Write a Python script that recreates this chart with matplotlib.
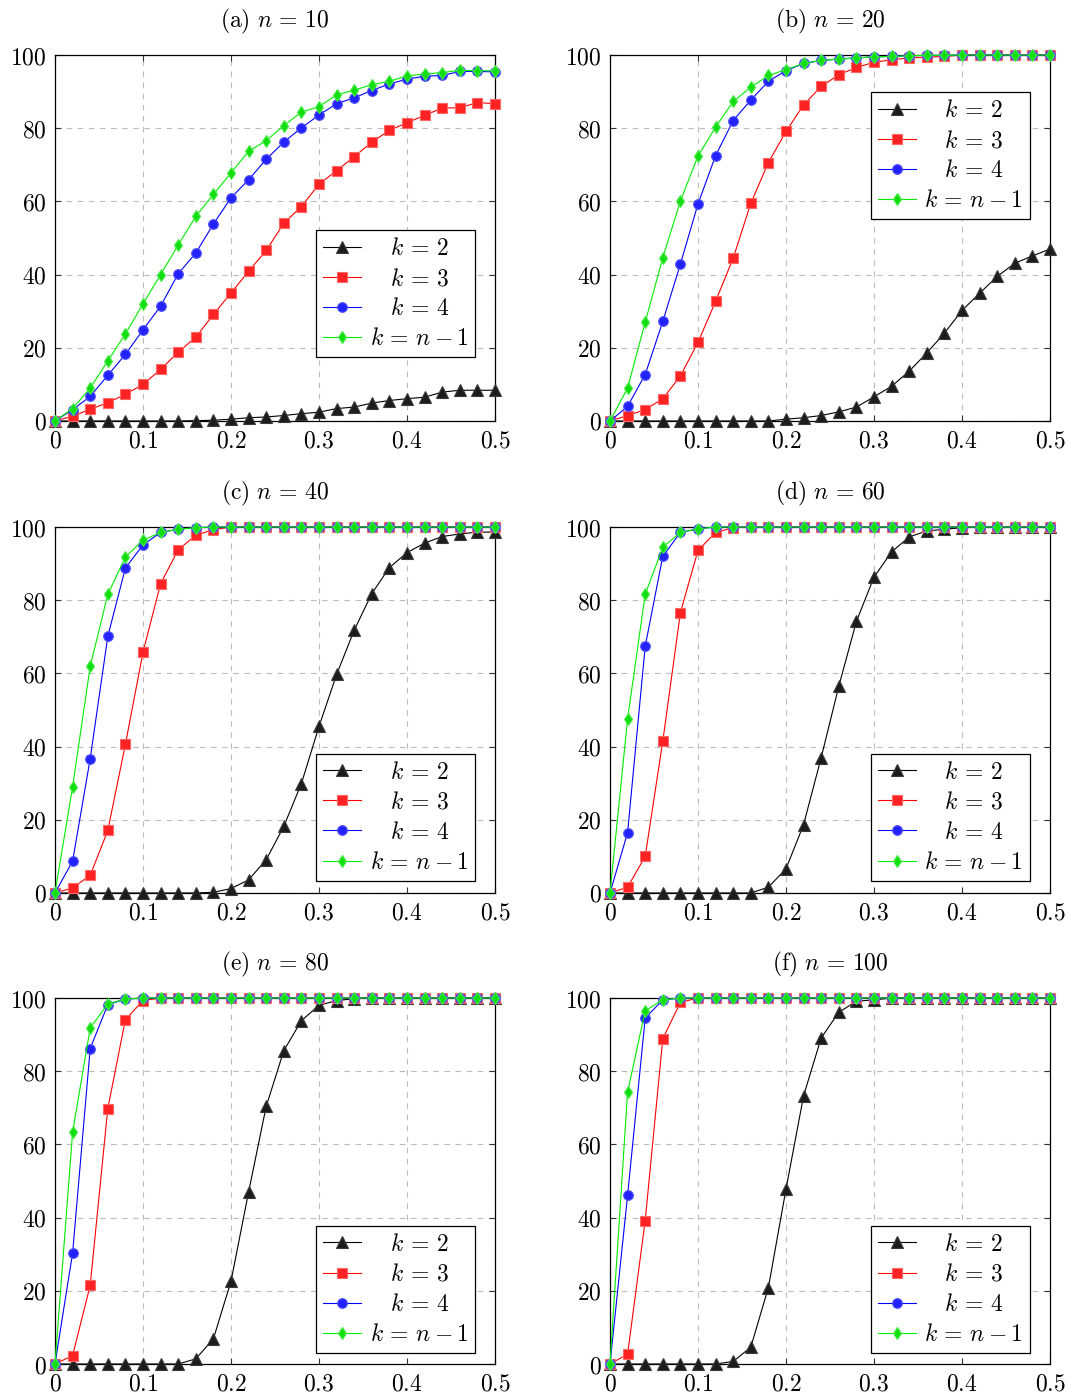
import matplotlib
matplotlib.use("Agg")
import matplotlib.pyplot as plt
from matplotlib.ticker import FuncFormatter, FixedLocator

plt.rcParams['mathtext.fontset'] = 'cm'
plt.rcParams['font.family'] = ['DejaVu Serif']

x = [0.00, 0.02, 0.04, 0.06, 0.08, 0.10, 0.12, 0.14, 0.16, 0.18, 0.20, 0.22, 0.24,
     0.26, 0.28, 0.30, 0.32, 0.34, 0.36, 0.38, 0.40, 0.42, 0.44, 0.46, 0.48, 0.50]

titles = [r'$\mathrm{(a)}\ n \,=\, 10$', r'$\mathrm{(b)}\ n \,=\, 20$', r'$\mathrm{(c)}\ n \,=\, 40$',
          r'$\mathrm{(d)}\ n \,=\, 60$', r'$\mathrm{(e)}\ n \,=\, 80$', r'$\mathrm{(f)}\ n \,=\, 100$']
labels = [r'$\quad k \,=\, 2$', r'$\quad k \,=\, 3$', r'$\quad k \,=\, 4$', r'$k \,=\, n - 1$']

# (a) n = 10
a_k2 = [0, 0, 0, 0, 0, 0, 0, 0, 0.1, 0.2, 0.5, 0.9, 1.1, 1.5, 2.0, 2.4, 3.4, 3.8, 4.9, 5.6, 6.1, 6.5, 7.9, 8.4, 8.4, 8.4]
a_k3 = [0, 1.3, 3.2, 5.0, 7.3, 10.0, 14.1, 18.8, 22.9, 29.1, 35.0, 40.9, 46.6, 54.0, 58.6, 64.7, 68.4, 72.2, 76.2, 79.4, 81.5, 83.5, 85.5, 85.6, 87.0, 86.7]
a_k4 = [0, 3.1, 6.7, 12.5, 18.2, 24.9, 31.4, 40.2, 45.9, 53.8, 61.0, 65.9, 71.5, 76.2, 80.1, 83.6, 86.7, 88.3, 90.3, 92.1, 93.4, 94.2, 94.4, 95.5, 95.5, 95.4]
a_kn = [0, 3.4, 9.0, 16.4, 23.8, 32.0, 40.0, 48.1, 55.9, 61.9, 67.8, 73.7, 76.6, 80.7, 84.4, 85.9, 89.1, 90.4, 91.9, 92.8, 94.3, 94.8, 95.2, 95.8, 95.7, 95.7]

# (b) n = 20
b_k2 = [0, 0, 0, 0, 0, 0, 0, 0, 0, 0, 0.5, 0.9, 1.5, 2.5, 3.8, 6.6, 9.5, 13.6, 18.6, 24.0, 30.2, 34.9, 39.5, 43.1, 45.1, 47.0]
b_k3 = [0, 1.5, 3.1, 6.1, 12.3, 21.5, 32.7, 44.5, 59.5, 70.6, 79.1, 86.4, 91.4, 94.6, 96.6, 98.0, 98.7, 99.2, 99.4, 99.6, 100, 100, 100, 100, 100, 100]
b_k4 = [0, 4.0, 12.7, 27.2, 42.9, 59.3, 72.5, 82.1, 87.7, 92.8, 95.7, 97.7, 98.5, 98.9, 99.2, 99.5, 99.6, 99.8, 99.9, 99.9, 100, 100, 100, 100, 100, 100]
b_kn = [0, 9.0, 27.0, 44.6, 60.1, 72.4, 80.3, 87.3, 91.2, 94.4, 96.0, 97.7, 98.5, 98.9, 99.2, 99.5, 99.6, 99.8, 99.9, 99.9, 100, 100, 100, 100, 100, 100]

# (c) n = 40
c_k2 = [0, 0, 0, 0, 0, 0, 0, 0, 0, 0.2, 1.2, 3.6, 9.1, 18.2, 29.9, 45.5, 59.7, 71.8, 81.8, 88.9, 93.0, 95.6, 97.4, 98.1, 98.6, 98.6]
c_k3 = [0, 1.4, 4.8, 17.1, 40.6, 65.8, 84.5, 93.8, 97.7, 99.3, 100, 100, 100, 100, 100, 100, 100, 100, 100, 100, 100, 100, 100, 100, 100, 100]
c_k4 = [0, 8.7, 36.7, 70.1, 88.8, 95.1, 98.5, 99.4, 99.8, 100, 100, 100, 100, 100, 100, 100, 100, 100, 100, 100, 100, 100, 100, 100, 100, 100]
c_kn = [0, 29.0, 61.9, 81.6, 91.8, 96.4, 98.5, 99.4, 99.8, 100, 100, 100, 100, 100, 100, 100, 100, 100, 100, 100, 100, 100, 100, 100, 100, 100]

# (d) n = 60
d_k2 = [0, 0, 0, 0, 0, 0, 0, 0, 0, 1.6, 6.6, 18.7, 37.0, 56.5, 74.2, 86.3, 93.2, 97.3, 98.9, 99.4, 99.8, 100, 100, 100, 100, 100]
d_k3 = [0, 1.6, 10.0, 41.5, 76.6, 93.6, 98.5, 99.8, 100, 100, 100, 100, 100, 100, 100, 100, 100, 100, 100, 100, 100, 100, 100, 100, 100, 100]
d_k4 = [0, 16.5, 67.4, 92.0, 98.5, 99.5, 100, 100, 100, 100, 100, 100, 100, 100, 100, 100, 100, 100, 100, 100, 100, 100, 100, 100, 100, 100]
d_kn = [0, 47.6, 81.6, 94.5, 98.5, 99.5, 100, 100, 100, 100, 100, 100, 100, 100, 100, 100, 100, 100, 100, 100, 100, 100, 100, 100, 100, 100]

# (e) n = 80
e_k2 = [0, 0, 0, 0, 0, 0, 0, 0, 1.4, 6.9, 22.6, 47.0, 70.4, 85.6, 93.8, 98.0, 99.3, 99.8, 100, 100, 100, 100, 100, 100, 100, 100]
e_k3 = [0, 2.3, 21.5, 69.8, 94.1, 99.3, 100, 100, 100, 100, 100, 100, 100, 100, 100, 100, 100, 100, 100, 100, 100, 100, 100, 100, 100, 100]
e_k4 = [0, 30.3, 86.2, 98.2, 99.7, 100, 100, 100, 100, 100, 100, 100, 100, 100, 100, 100, 100, 100, 100, 100, 100, 100, 100, 100, 100, 100]
e_kn = [0, 63.3, 91.8, 98.4, 99.7, 100, 100, 100, 100, 100, 100, 100, 100, 100, 100, 100, 100, 100, 100, 100, 100, 100, 100, 100, 100, 100]

# (f) n = 100
f_k2 = [0, 0, 0, 0, 0, 0, 0, 0.7, 4.6, 20.9, 47.8, 73.3, 89.1, 96.1, 99.1, 99.5, 100, 100, 100, 100, 100, 100, 100, 100, 100, 100]
f_k3 = [0, 2.7, 39.2, 88.9, 98.8, 100, 100, 100, 100, 100, 100, 100, 100, 100, 100, 100, 100, 100, 100, 100, 100, 100, 100, 100, 100, 100]
f_k4 = [0, 46.1, 94.5, 99.5, 100, 100, 100, 100, 100, 100, 100, 100, 100, 100, 100, 100, 100, 100, 100, 100, 100, 100, 100, 100, 100, 100]
f_kn = [0, 74.3, 96.5, 99.5, 100, 100, 100, 100, 100, 100, 100, 100, 100, 100, 100, 100, 100, 100, 100, 100, 100, 100, 100, 100, 100, 100]

panels = [
    (a_k2, a_k3, a_k4, a_kn),
    (b_k2, b_k3, b_k4, b_kn),
    (c_k2, c_k3, c_k4, c_kn),
    (d_k2, d_k3, d_k4, d_kn),
    (e_k2, e_k3, e_k4, e_kn),
    (f_k2, f_k3, f_k4, f_kn),
]

xticks = [0, 0.1, 0.2, 0.3, 0.4, 0.5]
yticks = [0, 20, 40, 60, 80, 100]

styles = [
    dict(color='#000000', marker='^', ms=8.5, mfc='#1c1c1c', mec='#3a3a3a'),
    dict(color='#ff0000', marker='s', ms=7.0, mfc='#ff2222', mec='#ff6666'),
    dict(color='#0000ff', marker='o', ms=7.0, mfc='#2222ff', mec='#5555ff'),
    dict(color='#00ee00', marker='d', ms=6.5, mfc='#11dd11', mec='#44ee44'),
]

W, H = 1072, 1396
fig = plt.figure(figsize=(W / 100, H / 100), dpi=100)

lefts = [55, 610]
tops = [55, 527, 998]
aw, ah = 440, 366

legend_pos = [
    ('upper right', (0.955, 0.522)),
    ('upper right', (0.954, 0.899)),
    ('lower right', (0.955, 0.033)),
    ('lower right', (0.954, 0.033)),
    ('lower right', (0.955, 0.030)),
    ('lower right', (0.954, 0.030)),
]

fmt = FuncFormatter(lambda v, p: r'$%g$' % v)

for i, series in enumerate(panels):
    r, c = divmod(i, 2)
    ax = fig.add_axes([lefts[c] / W, (H - tops[r] - ah) / H, aw / W, ah / H])
    for s, lab, st in zip(series, labels, styles):
        ax.plot(x, s, lw=0.8, label=lab, markeredgewidth=0.8, clip_on=False, zorder=3, **st)
    ax.set_xlim(0, 0.5)
    ax.set_ylim(0, 100)
    ax.xaxis.set_major_locator(FixedLocator(xticks))
    ax.yaxis.set_major_locator(FixedLocator(yticks))
    ax.xaxis.set_major_formatter(fmt)
    ax.yaxis.set_major_formatter(fmt)
    ax.tick_params(direction='in', top=True, right=True, length=4, width=0.8,
                   labelsize=17, colors='#333333', labelcolor='black')
    ax.tick_params(axis='x', pad=6)
    ax.tick_params(axis='y', pad=6)
    ax.grid(True, color='#bbbbbb', linestyle=(0, (5, 5)), linewidth=0.8)
    ax.set_axisbelow(True)
    for sp in ax.spines.values():
        sp.set_linewidth(0.9)
        sp.set_color('black')
    ax.set_title(titles[i], fontsize=17, pad=20)
    loc, anchor = legend_pos[i]
    leg = ax.legend(loc=loc, bbox_to_anchor=anchor, fontsize=17, fancybox=False,
                    framealpha=1, edgecolor='black', borderaxespad=0, handlelength=1.6,
                    labelspacing=0.3, borderpad=0.3, handletextpad=0.35, numpoints=1)
    leg.get_frame().set_linewidth(0.9)
    leg.set_zorder(5)

fig.savefig('out.png', dpi=100)
